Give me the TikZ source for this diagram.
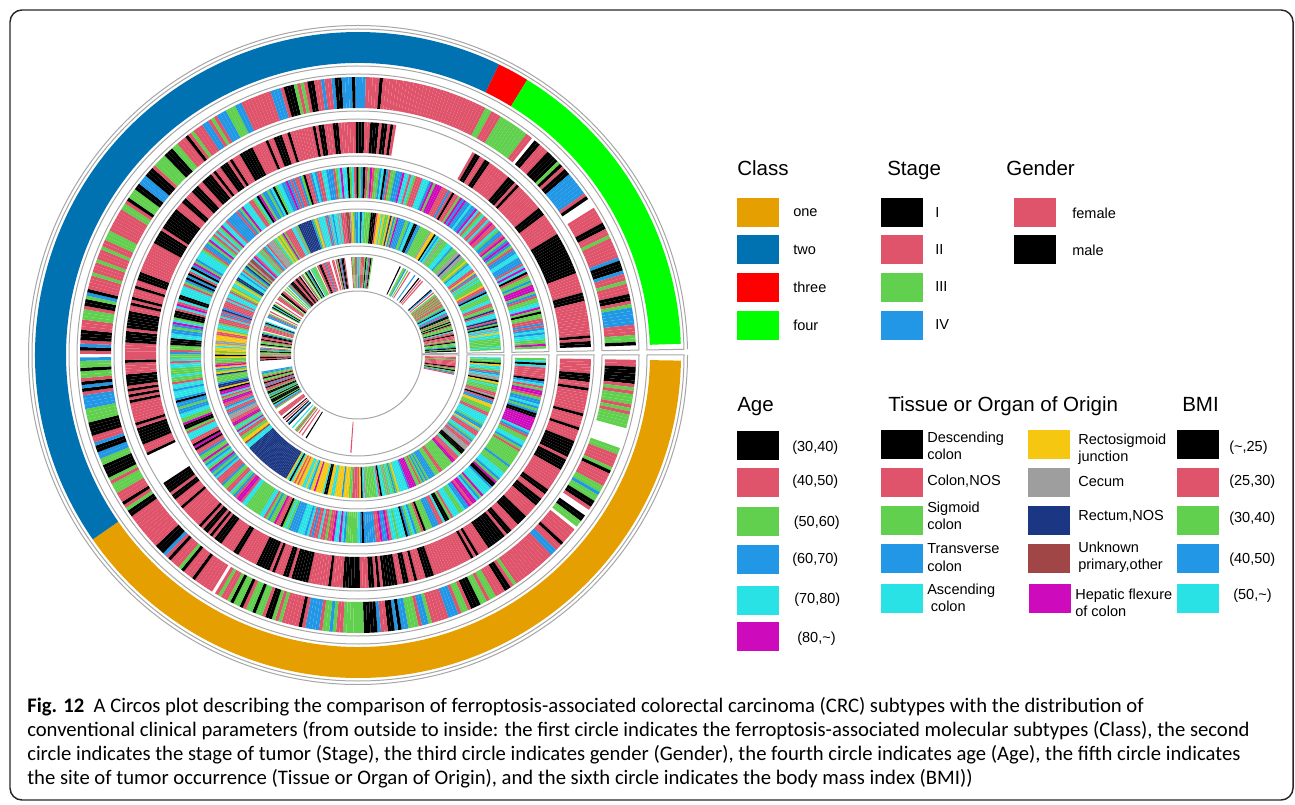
\documentclass[tikz,border=0pt]{standalone}
\usepackage{fontspec}
\setmainfont{Liberation Sans}
\newfontfamily\capfont{Carlito}

\definecolor{cone}{HTML}{E69F00}
\definecolor{ctwo}{HTML}{0072B2}
\definecolor{cthree}{HTML}{FF0000}
\definecolor{cfour}{HTML}{00FF00}
\definecolor{rblack}{HTML}{000000}
\definecolor{rpink}{HTML}{DF536B}
\definecolor{rgreen}{HTML}{61D04F}
\definecolor{rblue}{HTML}{2297E6}
\definecolor{rcyan}{HTML}{28E2E5}
\definecolor{rmag}{HTML}{CD0BBC}
\definecolor{ryel}{HTML}{F5C710}
\definecolor{rgray}{HTML}{9E9E9E}
\definecolor{rnavy}{HTML}{1B3784}
\definecolor{rbrown}{HTML}{A04646}

\newcommand\stp{0.714}
\newcommand\palcol[1]{\ifcase#1 rblack\or rpink\or rgreen\or rblue\or rcyan\or rmag\or ryel\or rgray\or rnavy\or rbrown\else white\fi}
% annular sector: colour, start, end, inner, outer
\newcommand\sector[5]{\fill[#1] (#2:#5) arc[start angle=#2,end angle=#3,radius=#5] -- (#3:#4) arc[start angle=#3,end angle=#2,radius=#4] -- cycle;}
% cell border of one track
\newcommand\cell[2]{\draw[cellb] (0:#2) arc[start angle=0,end angle=-359,radius=#2] -- (-359:#1) arc[start angle=-359,end angle=0,radius=#1] -- cycle;}
% one sample of a track, 10 = missing
\newcommand\stripe[3]{\ifnum#1<10 \edef\col{\palcol{#1}}\fill[fill=\col] (\angA:#2) -- (\angA:#3) -- (\angB:#3) -- (\angB:#2) -- cycle;\fi}

\begin{document}
\begin{tikzpicture}[x=0.75pt,y=0.75pt,
  cellb/.style={draw=gray!70,line width=0.75pt},
  swatch/.style={anchor=north west,minimum width=31.5pt,minimum height=21.75pt,inner sep=0pt},
  lab/.style={anchor=west,inner sep=0pt,align=left,font=\fontsize{10.9}{13}\selectfont},
  ttl/.style={anchor=base west,inner sep=0pt,font=\fontsize{15.4}{18}\selectfont},
  capt/.style={anchor=north west,inner sep=0pt,align=left,font=\capfont\fontsize{15.5}{18}\selectfont}]
\useasboundingbox (0,0) rectangle (1295,-805);
\draw[rounded corners=9pt,line width=1.1pt,black!85] (10,-10) rectangle (1293,-800);

\begin{scope}[shift={(358,-355)}]
\draw[cellb] (0:329.5) arc[start angle=0,end angle=-359,radius=329.5];
\cell{289}{326}
\cell{244}{281}
\cell{199}{236}
\cell{154}{191}
\cell{109}{146}
\cell{64}{101}
% class
\sector{cone}{-1}{-145.2}{292}{323}
\sector{ctwo}{-145.2}{-295.9}{292}{323}
\sector{cthree}{-295.9}{-301.6}{292}{323}
\sector{cfour}{-301.6}{-358}{292}{323}
\pgfmathsetseed{4242}
\xdef\kst{1}\xdef\kgd{1}\xdef\kag{4}\xdef\kts{4}
\foreach \i in {0,...,499}{
  \pgfmathsetmacro\angA{-1-\i*\stp}
  \pgfmathsetmacro\angB{\angA-\stp}
  % stage
  \pgfmathsetmacro\rv{rnd}
  \pgfmathsetmacro\ru{rnd}
  \pgfmathtruncatemacro\kc{(\rv>0.15)+(\rv>0.56)+(\rv>0.84)+(\rv>0.975)}
  \ifnum\kc=4 \def\kc{10}\fi
  \ifdim\ru pt>0.35pt \xdef\kst{\kc}\fi
  \edef\kk{\kst}
  \ifnum\i>387 \ifnum\i<415 \def\kk{1}\fi\fi
  \stripe{\kk}{247}{278}
  % gender
  \pgfmathsetmacro\rv{rnd}
  \pgfmathsetmacro\ru{rnd}
  \pgfmathtruncatemacro\kc{1-(\rv>0.55)}
  \ifdim\ru pt>0.3pt \xdef\kgd{\kc}\fi
  \edef\kk{\kgd}
  \ifnum\i>389 \ifnum\i<418 \def\kk{10}\fi\fi
  \ifnum\i>203 \ifnum\i<215 \def\kk{10}\fi\fi
  \stripe{\kk}{202}{233}
  % age
  \pgfmathsetmacro\rv{rnd}
  \pgfmathsetmacro\ru{rnd}
  \pgfmathtruncatemacro\kc{(\rv>0.07)+(\rv>0.21)+(\rv>0.41)+(\rv>0.65)+(\rv>0.9)}
  \ifdim\ru pt>0.2pt \xdef\kag{\kc}\fi
  \stripe{\kag}{157}{188}
  % tissue
  \pgfmathsetmacro\rv{rnd}
  \pgfmathsetmacro\ru{rnd}
  \pgfmathsetmacro\rw{rnd}
  \pgfmathtruncatemacro\kc{(\rv>0.05)+(\rv>0.2)+(\rv>0.4)+(\rv>0.5)+(\rv>0.7)+(\rv>0.74)+(\rv>0.81)+(\rv>0.93)+(\rv>0.98)}
  \ifdim\ru pt>0.25pt \xdef\kts{\kc}\fi
  \edef\kk{\kts}
  \ifnum\i>166 \ifnum\i<193 \ifdim\rw pt<0.85pt \def\kk{8}\fi\fi\fi
  \ifnum\i>128 \ifnum\i<167 \ifdim\rw pt<0.45pt \def\kk{6}\fi\fi\fi
  \ifnum\i>248 \ifnum\i<262 \ifdim\rw pt<0.7pt \def\kk{6}\fi\fi\fi
  \ifnum\i>341 \ifnum\i<351 \ifdim\rw pt<0.8pt \def\kk{8}\fi\fi\fi
  \ifnum\i>327 \ifnum\i<334 \ifdim\rw pt<0.5pt \def\kk{6}\fi\fi\fi
  \stripe{\kk}{112}{143}
  % bmi
  \pgfmathsetmacro\rv{rnd}
  \pgfmathsetmacro\rw{rnd}
  \pgfmathsetmacro\pp{(\i<15)+0.6*(\i>168)*(\i<201)+(\i>203)*(\i<237)+(\i>245)*(\i<257)+(\i>257)*(\i<270)+(\i>270)*(\i<279)+0.85*(\i>280)*(\i<366)+(\i>370)*(\i<389)+0.35*(\i>408)*(\i<448)+(\i>448)+(\i==130)}
  \pgfmathtruncatemacro\kc{(\rv>0.25)+(\rv>0.6)+(\rv>0.85)+(\rv>0.95)}
  \ifdim\rw pt<\pp pt \stripe{\kc}{67}{98}\fi
}
\end{scope}

% legend, first row
\node[ttl] (hcls) at (737,-176) {Class};
\node[ttl] (hstg) at (887,-176) {Stage};
\node[ttl] (hgen) at (1006,-176) {Gender};
\node[swatch,fill=cone] (c1) at (737,-197.5) {};
\node[swatch,fill=ctwo] (c2) at (737,-235) {};
\node[swatch,fill=cthree] (c3) at (737,-273) {};
\node[swatch,fill=cfour] (c4) at (737,-311) {};
\node[lab] (c1t) at (793,-213) {one};
\node[lab] (c2t) at (793,-250) {two};
\node[lab] (c3t) at (793,-287) {three};
\node[lab] (c4t) at (793,-325) {four};
\node[swatch,fill=rblack] (s1) at (881,-197.5) {};
\node[swatch,fill=rpink] (s2) at (881,-235) {};
\node[swatch,fill=rgreen] (s3) at (881,-273) {};
\node[swatch,fill=rblue] (s4) at (881,-311) {};
\node[lab] (s1t) at (935,-213) {I};
\node[lab] (s2t) at (935,-250) {II};
\node[lab] (s3t) at (935,-287) {III};
\node[lab] (s4t) at (935,-325) {IV};
\node[swatch,fill=rpink] (g1) at (1014,-197.5) {};
\node[swatch,fill=rblack] (g2) at (1014,-235) {};
\node[lab] (g1t) at (1072,-213) {female};
\node[lab] (g2t) at (1072,-250) {male};

% legend, second row
\node[ttl] (hage) at (737,-411.5) {Age};
\node[ttl] (htis) at (888,-411.5) {Tissue or Organ of Origin};
\node[ttl] (hbmi) at (1182,-411.5) {BMI};
\node[swatch,fill=rblack] (a1) at (737,-431) {};
\node[swatch,fill=rpink] (a2) at (737,-468) {};
\node[swatch,fill=rgreen] (a3) at (737,-507) {};
\node[swatch,fill=rblue] (a4) at (737,-545) {};
\node[swatch,fill=rcyan] (a5) at (737,-586) {};
\node[swatch,fill=rmag] (a6) at (737,-622) {};
\node[lab] (a1t) at (792,-447.5) {(30,40)};
\node[lab] (a2t) at (792,-482) {(40,50)};
\node[lab] (a3t) at (793.5,-523) {(50,60)};
\node[lab] (a4t) at (792,-560) {(60,70)};
\node[lab] (a5t) at (794,-600) {(70,80)};
\node[lab] (a6t) at (797,-638.5) {(80,\textasciitilde)};
\node[swatch,fill=rblack] (t1) at (881,-430) {};
\node[swatch,fill=rpink] (t2) at (881,-467.5) {};
\node[swatch,fill=rgreen] (t3) at (881,-506) {};
\node[swatch,fill=rblue] (t4) at (881,-544) {};
\node[swatch,fill=rcyan] (t5) at (881,-584) {};
\node[lab] (t1t) at (927,-445.5) {Descending\\colon};
\node[lab] (t2t) at (927,-481.5) {Colon,NOS};
\node[lab] (t3t) at (927,-516) {Sigmoid\\colon};
\node[lab] (t4t) at (927,-557.5) {Transverse\\colon};
\node[lab] (t5t) at (927,-597.5) {Ascending\\\hspace{0.25em}colon};
\node[swatch,fill=ryel] (t6) at (1028,-430) {};
\node[swatch,fill=rgray] (t7) at (1028,-467.5) {};
\node[swatch,fill=rnavy] (t8) at (1028,-506) {};
\node[swatch,fill=rbrown] (t9) at (1028,-544) {};
\node[swatch,fill=rmag] (t10) at (1029,-584) {};
\node[lab] (t6t) at (1078,-449) {Rectosigmoid\\junction};
\node[lab] (t7t) at (1078,-481.5) {Cecum};
\node[lab] (t8t) at (1078,-516) {Rectum,NOS};
\node[lab] (t9t) at (1078,-557) {Unknown\\primary,other};
\node[lab] (t10t) at (1075,-602.5) {Hepatic flexure\\of colon};
\node[swatch,fill=rblack] (b1) at (1177,-430) {};
\node[swatch,fill=rpink] (b2) at (1177,-467.5) {};
\node[swatch,fill=rgreen] (b3) at (1177,-506) {};
\node[swatch,fill=rblue] (b4) at (1177,-544) {};
\node[swatch,fill=rcyan] (b5) at (1177,-584) {};
\node[lab] (b1t) at (1229,-447.5) {(\textasciitilde,25)};
\node[lab] (b2t) at (1229,-482) {(25,30)};
\node[lab] (b3t) at (1229,-519) {(30,40)};
\node[lab] (b4t) at (1229,-560) {(40,50)};
\node[lab] (b5t) at (1233,-596) {(50,\textasciitilde)};

\node[capt] (cap) at (27,-697) {\textbf{Fig. 12}\hspace{0.45em}A Circos plot describing the comparison of ferroptosis-associated colorectal carcinoma (CRC) subtypes with the distribution of\\
conventional clinical parameters (from outside to inside: the first circle indicates the ferroptosis-associated molecular subtypes (Class), the second\\
circle indicates the stage of tumor (Stage), the third circle indicates gender (Gender), the fourth circle indicates age (Age), the fifth circle indicates\\
the site of tumor occurrence (Tissue or Organ of Origin), and the sixth circle indicates the body mass index (BMI))};
\end{tikzpicture}
\end{document}
